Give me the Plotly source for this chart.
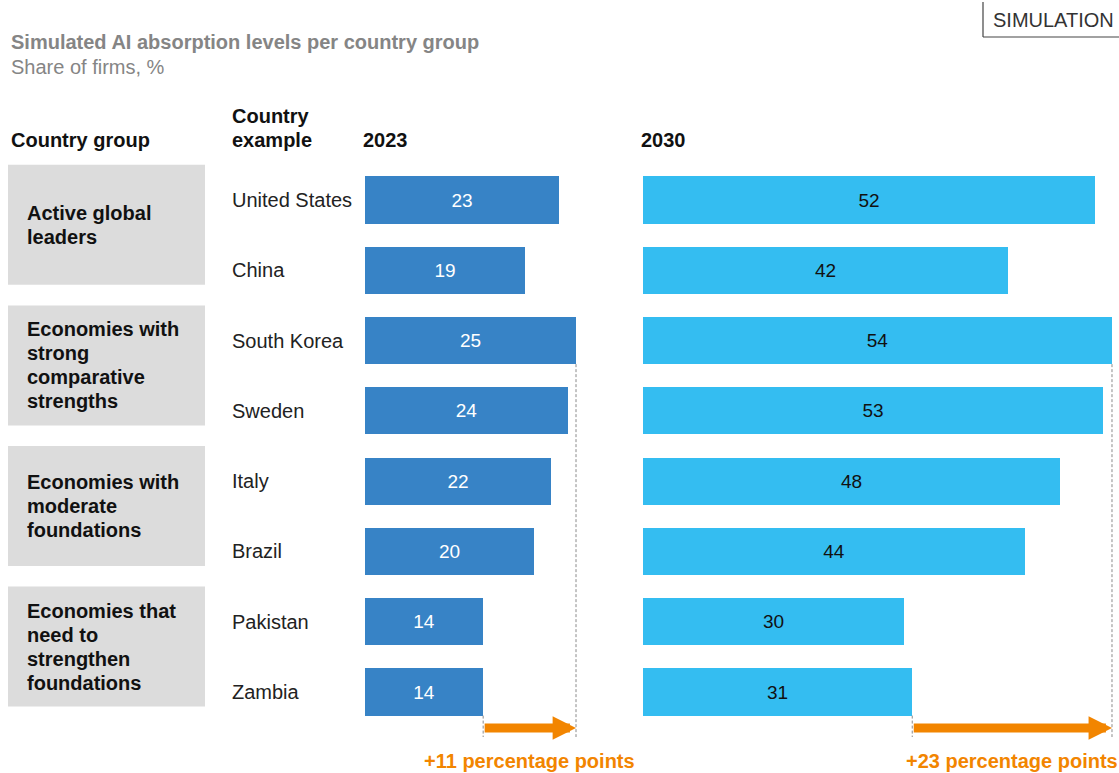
import plotly.graph_objects as go

# ---- data -------------------------------------------------------------
groups = [
    ["Active global", "leaders"],
    ["Economies with", "strong", "comparative", "strengths"],
    ["Economies with", "moderate", "foundations"],
    ["Economies that", "need to", "strengthen", "foundations"],
]
countries = ["United States", "China", "South Korea", "Sweden",
             "Italy", "Brazil", "Pakistan", "Zambia"]
share_2023 = [23, 19, 25, 24, 22, 20, 14, 14]
share_2030 = [52, 42, 54, 53, 48, 44, 30, 31]
years = ["2023", "2030"]

# ---- styling ----------------------------------------------------------
W, H = 1119, 773
FONT = "Liberation Sans, Arial, Helvetica, sans-serif"
C_2023 = "#3783C6"
C_2030 = "#34BDF1"
ORANGE = "#F28500"
BOX = "#DCDCDC"
GREY_TXT = "#858585"
DASH = "#8A8A8A"
FS = 20
LINE_PX = 24                         # line pitch for multi-line labels

ROW0_PX, ROW_PX = 200.0, 70.29      # pixel centre of first row, row pitch
X1_ORIGIN, X1_SCALE = 365.0, 8.44   # 2023 panel: pixel of zero, px per point
X2_ORIGIN, X2_SCALE = 643.0, 8.685  # 2030 panel


def py(p):
    """pixel row -> y data value"""
    return (p - ROW0_PX) / ROW_PX


def ppx(p):
    """pixel column -> paper x"""
    return p / W


def ppy(p):
    """pixel row -> paper y"""
    return 1 - p / H


rows = list(range(len(countries)))
BAR_W = 0.67

fig = go.Figure()
fig.add_trace(go.Bar(
    y=rows, x=share_2023, orientation="h", width=BAR_W,
    marker=dict(color=C_2023, line=dict(width=0)),
    text=[str(v) for v in share_2023], textposition="inside",
    insidetextanchor="middle", textangle=0,
    textfont=dict(family=FONT, size=19, color="white"),
    xaxis="x", yaxis="y", hoverinfo="skip", showlegend=False,
))
fig.add_trace(go.Bar(
    y=rows, x=share_2030, orientation="h", width=BAR_W,
    marker=dict(color=C_2030, line=dict(width=0)),
    text=[str(v) for v in share_2030], textposition="inside",
    insidetextanchor="middle", textangle=0,
    textfont=dict(family=FONT, size=19, color="#111111"),
    xaxis="x2", yaxis="y", hoverinfo="skip", showlegend=False,
))

shapes = []
annotations = []

# grey country-group boxes (two rows each), text lines centred in the box
line_dy = LINE_PX / ROW_PX
for k, lines in enumerate(groups):
    y0 = 2 * k - 0.5
    y1 = 2 * k + 1.207
    shapes.append(dict(type="rect", xref="paper", yref="y",
                       x0=ppx(8), x1=ppx(205), y0=y0, y1=y1,
                       fillcolor=BOX, line=dict(width=0), layer="below"))
    mid = (y0 + y1) / 2
    first = mid - (len(lines) - 1) / 2 * line_dy
    for i, ln in enumerate(lines):
        annotations.append(dict(xref="paper", yref="y", x=ppx(25),
                                y=first + i * line_dy,
                                text=f"<b>{ln}</b>", showarrow=False,
                                xanchor="left", yanchor="middle",
                                font=dict(family=FONT, size=FS, color="#111111")))

# country names
for r, c in zip(rows, countries):
    annotations.append(dict(xref="paper", yref="y", x=ppx(230), y=r, text=c,
                            showarrow=False, xanchor="left", yanchor="middle",
                            font=dict(family=FONT, size=FS, color="#222222")))

# change arrows: from the last country's value to the panel maximum
arrow_y = py(728)
line_bottom = py(737)
for xr, vals in (("x", share_2023), ("x2", share_2030)):
    start = vals[-1]
    top = max(vals)
    top_row = vals.index(top)
    shapes.append(dict(type="line", xref=xr, yref="y", x0=top, x1=top,
                       y0=top_row + BAR_W / 2, y1=line_bottom,
                       line=dict(color=DASH, width=1, dash="3px,2px")))
    shapes.append(dict(type="line", xref=xr, yref="y", x0=start, x1=start,
                       y0=rows[-1] + BAR_W / 2, y1=line_bottom,
                       line=dict(color=DASH, width=1, dash="3px,2px")))
    annotations.append(dict(xref=xr, yref="y", axref=xr, ayref="y",
                            x=top, y=arrow_y, ax=start, ay=arrow_y, text="",
                            showarrow=True, arrowhead=2, arrowsize=0.52,
                            arrowwidth=9, arrowcolor=ORANGE, standoff=0))
    annotations.append(dict(xref=xr, yref="y", x=(start + top) / 2, y=py(761),
                            text=f"<b>+{top - start} percentage points</b>",
                            showarrow=False, xanchor="center", yanchor="middle",
                            font=dict(family=FONT, size=FS, color=ORANGE)))

# title block
annotations.append(dict(xref="paper", yref="paper", x=ppx(9), y=ppy(42),
                        text="<b>Simulated AI absorption levels per country group</b>",
                        showarrow=False, xanchor="left", yanchor="middle",
                        font=dict(family=FONT, size=FS, color=GREY_TXT)))
annotations.append(dict(xref="paper", yref="paper", x=ppx(9), y=ppy(67),
                        text="Share of firms, %",
                        showarrow=False, xanchor="left", yanchor="middle",
                        font=dict(family=FONT, size=FS, color=GREY_TXT)))

# column headers
hdr = dict(family=FONT, size=FS, color="#111111")
annotations.append(dict(xref="paper", yref="paper", x=ppx(9), y=ppy(140),
                        text="<b>Country group</b>", showarrow=False,
                        xanchor="left", yanchor="middle", font=hdr))
for i, ln in enumerate(["Country", "example"]):
    annotations.append(dict(xref="paper", yref="paper", x=ppx(230),
                            y=ppy(116 + i * LINE_PX),
                            text=f"<b>{ln}</b>", showarrow=False,
                            xanchor="left", yanchor="middle", font=hdr))
annotations.append(dict(xref="paper", yref="paper", x=ppx(361), y=ppy(140),
                        text=f"<b>{years[0]}</b>", showarrow=False,
                        xanchor="left", yanchor="middle", font=hdr))
annotations.append(dict(xref="paper", yref="paper", x=ppx(639), y=ppy(140),
                        text=f"<b>{years[1]}</b>", showarrow=False,
                        xanchor="left", yanchor="middle", font=hdr))

# SIMULATION tag
annotations.append(dict(xref="paper", yref="paper", x=ppx(991), y=ppy(20),
                        text="SIMULATION", showarrow=False,
                        xanchor="left", yanchor="middle",
                        font=dict(family=FONT, size=FS, color="#333333")))
shapes.append(dict(type="line", xref="paper", yref="paper",
                   x0=ppx(983), x1=ppx(983), y0=ppy(2), y1=ppy(37),
                   line=dict(color="#444444", width=1.2)))
shapes.append(dict(type="line", xref="paper", yref="paper",
                   x0=ppx(983), x1=1, y0=ppy(37), y1=ppy(37),
                   line=dict(color="#444444", width=1.2)))

fig.update_layout(
    width=W, height=H, autosize=False,
    margin=dict(l=0, r=0, t=0, b=0, pad=0),
    paper_bgcolor="white", plot_bgcolor="white",
    font=dict(family=FONT),
    bargap=0, barmode="overlay",
    xaxis=dict(domain=[0, 1], visible=False, fixedrange=True,
               range=[-X1_ORIGIN / X1_SCALE, (W - X1_ORIGIN) / X1_SCALE]),
    xaxis2=dict(domain=[0, 1], visible=False, overlaying="x", fixedrange=True,
                range=[-X2_ORIGIN / X2_SCALE, (W - X2_ORIGIN) / X2_SCALE]),
    yaxis=dict(domain=[0, 1], visible=False, fixedrange=True,
               range=[py(H), py(0)]),
    shapes=shapes,
    annotations=annotations,
    showlegend=False,
)

fig.write_html("out.html")
